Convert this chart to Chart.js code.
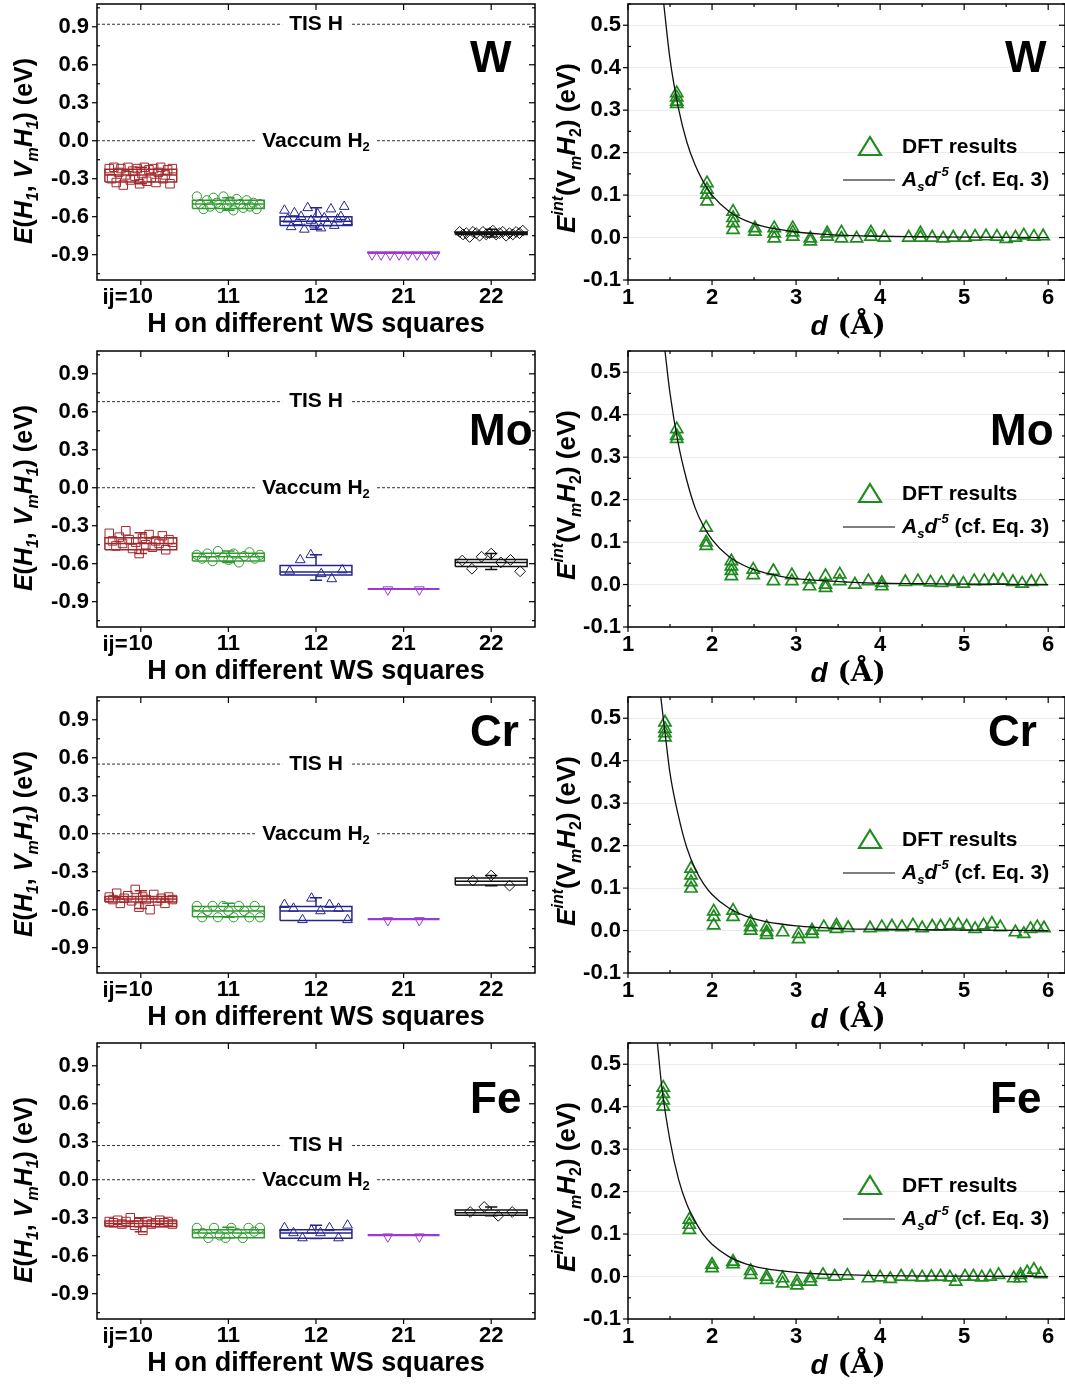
<!DOCTYPE html>
<html>
<head>
<meta charset="utf-8">
<script src="https://cdn.jsdelivr.net/npm/chart.js@4.4.0/dist/chart.umd.min.js"></script>
<style>
  body { margin: 0; background: #fff; }
  #page { position: relative; width: 1065px; height: 1389px; overflow: hidden; }
  #page canvas { position: absolute; }
</style>
</head>
<body>
<div id="page"></div>
<script>
// ---- data ----
const elements = ['W', 'Mo', 'Cr', 'Fe'];
const catLabels = ['10', '11', '12', '21', '22'];
const tisH = [0.92, 0.68, 0.55, 0.27];
const vacH2 = 0.0;
const yTicksLeft = [-0.9, -0.6, -0.3, 0.0, 0.3, 0.6, 0.9];
const yTicksRight = [-0.1, 0.0, 0.1, 0.2, 0.3, 0.4, 0.5];
const xTicksRight = [1, 2, 3, 4, 5, 6];

// box stats per square: [whisker low, Q1, median, Q3, whisker high]
const boxW  = [[-0.34,-0.325,-0.27,-0.225,-0.21],[-0.55,-0.535,-0.50,-0.47,-0.45],[-0.70,-0.67,-0.635,-0.60,-0.53],[-0.885,-0.885,-0.885,-0.885,-0.885],[-0.76,-0.74,-0.73,-0.72,-0.70]];
const boxMo = [[-0.52,-0.49,-0.44,-0.395,-0.355],[-0.59,-0.578,-0.545,-0.518,-0.50],[-0.73,-0.69,-0.665,-0.615,-0.53],[-0.80,-0.80,-0.80,-0.80,-0.80],[-0.645,-0.622,-0.59,-0.567,-0.52]];
const boxCr = [[-0.59,-0.54,-0.515,-0.495,-0.45],[-0.66,-0.655,-0.61,-0.575,-0.55],[-0.685,-0.685,-0.61,-0.575,-0.505],[-0.675,-0.675,-0.675,-0.675,-0.675],[-0.41,-0.405,-0.375,-0.35,-0.33]];
const boxFe = [[-0.41,-0.37,-0.345,-0.325,-0.30],[-0.46,-0.458,-0.42,-0.395,-0.375],[-0.465,-0.462,-0.42,-0.395,-0.36],[-0.438,-0.438,-0.438,-0.438,-0.438],[-0.285,-0.28,-0.26,-0.24,-0.215]];

// individual configurations per square
const ptsW = [
  [-0.22,-0.30,-0.21,-0.33,-0.25,-0.22,-0.35,-0.27,-0.21,-0.31,-0.24,-0.28,-0.22,-0.34,-0.26,-0.21,-0.32,-0.23,-0.29,-0.22,-0.33,-0.25,-0.21,-0.30,-0.27,-0.23,-0.34,-0.22],
  [-0.44,-0.50,-0.54,-0.47,-0.52,-0.45,-0.49,-0.53,-0.44,-0.51,-0.48,-0.55,-0.46,-0.50,-0.53,-0.47,-0.52,-0.49,-0.54,-0.50],
  [-0.55,-0.62,-0.68,-0.57,-0.64,-0.60,-0.70,-0.53,-0.63,-0.66,-0.58,-0.69,-0.61,-0.65,-0.54,-0.67,-0.62,-0.60,-0.52,-0.64],
  [-0.90,-0.90,-0.90,-0.90,-0.90,-0.90,-0.90,-0.90],
  [-0.72,-0.74,-0.73,-0.76,-0.72,-0.73,-0.75,-0.72,-0.74,-0.73,-0.71,-0.74,-0.73,-0.72,-0.75,-0.73,-0.74,-0.72,-0.73,-0.71]
];
const ptsMo = [
  [-0.36,-0.42,-0.46,-0.39,-0.44,-0.34,-0.41,-0.48,-0.43,-0.52,-0.40,-0.45,-0.37,-0.47,-0.42,-0.44,-0.38,-0.49,-0.41,-0.43],
  [-0.53,-0.56,-0.52,-0.58,-0.50,-0.55,-0.57,-0.52,-0.59,-0.54,-0.51,-0.56,-0.53],
  [-0.66,-0.57,-0.53,-0.68,-0.72,-0.65],
  [-0.805,-0.805],
  [-0.575,-0.64,-0.545,-0.52,-0.59,-0.57,-0.66]
];
const ptsCr = [
  [-0.50,-0.52,-0.47,-0.55,-0.51,-0.49,-0.53,-0.44,-0.58,-0.50,-0.52,-0.60,-0.48,-0.53,-0.51,-0.55,-0.50,-0.52],
  [-0.57,-0.66,-0.61,-0.57,-0.66,-0.57,-0.61,-0.66,-0.57,-0.61,-0.66,-0.57,-0.66],
  [-0.56,-0.59,-0.68,-0.51,-0.61,-0.56,-0.59,-0.68],
  [-0.685,-0.685],
  [-0.37,-0.33,-0.41]
];
const ptsFe = [
  [-0.33,-0.34,-0.32,-0.35,-0.33,-0.30,-0.36,-0.34,-0.40,-0.33,-0.35,-0.34,-0.32,-0.34,-0.33,-0.35],
  [-0.38,-0.42,-0.46,-0.38,-0.44,-0.46,-0.38,-0.42,-0.46,-0.38,-0.41,-0.38],
  [-0.38,-0.42,-0.46,-0.40,-0.42,-0.38,-0.46,-0.36],
  [-0.45,-0.45],
  [-0.255,-0.215,-0.285,-0.255]
];

// DFT interaction energies: distance d (Å) and E (eV)
const dW = [1.58,1.58,1.58,1.58,1.94,1.94,1.94,1.94,2.25,2.25,2.25,2.25,2.51,2.51,2.74,2.74,2.74,2.96,2.96,2.96,3.17,3.17,3.37,3.37,3.54,3.54,3.72,3.89,3.89,4.05,4.34,4.48,4.48,4.62,4.75,4.87,5.01,5.13,5.26,5.39,5.50,5.61,5.71,5.83,5.94];
const eW = [0.34,0.33,0.32,0.315,0.128,0.113,0.101,0.085,0.061,0.046,0.034,0.018,0.022,0.014,0.022,0.010,-0.002,0.022,0.012,0.002,-0.002,-0.009,0.010,0.002,0.012,-0.002,-0.002,0.012,0.002,0.0,0.0,0.010,0.0,0.0,-0.002,0.0,0.0,0.002,0.003,0.002,-0.003,0.0,0.005,0.002,0.003];
const dMo = [1.58,1.58,1.58,1.93,1.93,1.93,2.23,2.23,2.23,2.23,2.49,2.49,2.73,2.73,2.95,2.95,3.16,3.16,3.35,3.35,3.35,3.52,3.52,3.70,3.86,4.02,4.02,4.30,4.45,4.60,4.73,4.87,4.99,5.12,5.24,5.35,5.46,5.58,5.69,5.80,5.91];
const eMo = [0.366,0.35,0.343,0.134,0.099,0.091,0.055,0.043,0.032,0.020,0.035,0.022,0.032,0.008,0.022,0.008,0.012,-0.004,0.020,0.0,-0.008,0.024,0.008,0.0,0.008,0.004,-0.004,0.006,0.008,0.005,0.004,0.006,0.002,0.008,0.008,0.009,0.010,0.006,0.002,0.006,0.008];
const dCr = [1.44,1.44,1.44,1.44,1.75,1.75,1.75,1.75,2.02,2.02,2.02,2.25,2.25,2.46,2.46,2.46,2.65,2.65,2.65,2.84,3.03,3.03,3.19,3.19,3.33,3.48,3.48,3.62,3.88,4.02,4.14,4.26,4.39,4.50,4.62,4.72,4.83,4.93,5.03,5.13,5.23,5.33,5.43,5.61,5.71,5.79,5.87,5.95];
const eCr = [0.49,0.475,0.465,0.455,0.146,0.130,0.114,0.099,0.045,0.032,0.012,0.047,0.032,0.020,0.008,0.0,0.008,-0.004,-0.010,-0.004,-0.008,-0.020,0.0,-0.008,0.008,0.012,0.004,0.006,0.0055,0.008,0.0095,0.008,0.012,0.0055,0.0095,0.0095,0.012,0.013,0.0095,0.004,0.012,0.016,0.008,-0.004,-0.008,0.004,0.008,0.0055];
const dFe = [1.42,1.42,1.42,1.42,1.73,1.73,1.73,2.00,2.00,2.25,2.25,2.46,2.46,2.65,2.65,2.84,2.84,3.01,3.01,3.17,3.17,3.32,3.46,3.61,3.86,4.00,4.12,4.25,4.38,4.50,4.61,4.72,4.83,4.90,5.01,5.11,5.21,5.31,5.41,5.59,5.67,5.67,5.75,5.83,5.91];
const eFe = [0.445,0.43,0.415,0.40,0.134,0.122,0.110,0.028,0.020,0.035,0.029,0.013,0.004,0.0,-0.008,-0.004,-0.016,-0.012,-0.021,-0.004,-0.012,0.004,0.0,0.002,-0.004,-0.002,-0.0055,0.0,-0.001,-0.002,-0.001,0.0,-0.002,-0.012,0.0,0.0,-0.002,0.0,0.004,-0.004,0.004,-0.004,0.010,0.016,0.0055];

// A_s d^-5 curves
const fitDW  = [1.42,1.5,1.6,1.7,1.8,1.9,2.0,2.2,2.4,2.6,2.8,3.0,3.3,3.6,4.0,4.5,5.0,6.0];
const fitEW  = [0.56,0.42,0.305,0.225,0.17,0.13,0.10,0.062,0.040,0.027,0.019,0.013,0.008,0.005,0.003,0.002,0.001,0.0];
const fitDMo = [1.44,1.5,1.6,1.7,1.8,1.9,2.0,2.2,2.4,2.6,2.8,3.0,3.3,3.6,4.0,4.5,5.0,6.0];
const fitEMo = [0.55,0.45,0.33,0.245,0.18,0.137,0.106,0.066,0.043,0.029,0.020,0.014,0.009,0.006,0.003,0.002,0.001,0.0];
const fitDCr = [1.39,1.45,1.5,1.6,1.7,1.8,1.9,2.0,2.2,2.4,2.6,2.8,3.0,3.3,3.6,4.0,5.0,6.0];
const fitECr = [0.55,0.45,0.37,0.27,0.195,0.145,0.11,0.085,0.053,0.034,0.023,0.016,0.011,0.007,0.004,0.003,0.001,0.0];
const fitDFe = [1.35,1.4,1.5,1.6,1.7,1.8,1.9,2.0,2.2,2.4,2.6,2.8,3.0,3.3,3.6,4.0,5.0,6.0];
const fitEFe = [0.55,0.45,0.32,0.23,0.17,0.13,0.098,0.076,0.047,0.030,0.020,0.014,0.010,0.006,0.004,0.002,0.001,0.0];

const boxes = [boxW, boxMo, boxCr, boxFe];
const points = [ptsW, ptsMo, ptsCr, ptsFe];
const dftD = [dW, dMo, dCr, dFe];
const dftE = [eW, eMo, eCr, eFe];
const fitD = [fitDW, fitDMo, fitDCr, fitDFe];
const fitE = [fitEW, fitEMo, fitECr, fitEFe];

// ---- styling ----
const sans = '"Liberation Sans", Arial, Helvetica, sans-serif';
const serif = '"DejaVu Serif", "Liberation Serif", serif';
Chart.defaults.font.family = sans;
Chart.defaults.color = '#000';
Chart.defaults.animation = false;

const catColors = ['#a3282c', '#2f9a2f', '#25258f', '#9a3ad6', '#111111'];
const catShapes = ['rect', 'circle', 'triangle', 'triangle', 'rectRot'];
const catRot = [0, 0, 0, 180, 0];
const catRadius = [6, 4.6, 5.6, 5.6, 5.4];
const green = '#1f8a1f';
const rowTops = [0, 347, 693, 1039];
const labelY = [60, 86, 41, 62];
const labelXLeft = [470, 469, 470, 470];
const labelXRight = [465, 450, 448, 450];

// ---- rich text helper (runs of [text, flags]; i=italic, _=sub, ^=sup, s=serif) ----
function layoutRuns(ctx, runs, size) {
  let w = 0;
  const items = runs.map(([t, f = '']) => {
    const small = f.includes('_') || f.includes('^');
    const sz = small ? Math.round(size * 0.62) : size;
    const font = (f.includes('i') ? 'italic ' : '') + 'bold ' + sz + 'px ' + (f.includes('s') ? serif : sans);
    ctx.font = font;
    const tw = ctx.measureText(t).width;
    const dy = f.includes('_') ? size * 0.33 : (f.includes('^') ? -size * 0.36 : 0);
    w += tw;
    return { t, font, tw, dy };
  });
  return { items, w };
}
function drawRuns(ctx, runs, x, y, size, align) {
  const { items, w } = layoutRuns(ctx, runs, size);
  let cx = align === 'center' ? x - w / 2 : (align === 'right' ? x - w : x);
  ctx.textBaseline = 'middle';
  ctx.textAlign = 'left';
  items.forEach(it => { ctx.font = it.font; ctx.fillText(it.t, cx, y + it.dy); cx += it.tw; });
  return w;
}

const leftTitle = [['E','i'],['('],['H','i'],['1','i_'],[', '],['V','i'],['m','i_'],['H','i'],['1','i_'],[')'],[' (eV)']];
const rightTitle = [['E','i'],['int','i^'],['(V'],['m','i_'],['H','i'],['2','_'],[')'],[' (eV)']];
const xTitleRight = [['d','i'],[' (Å)','s']];
const fitLegend = [['A','i'],['s','i_'],['d','i'],['-5','i^'],[' (cf. Eq. 3)']];

// frame, ticks and labels drawn on top of the plot
const deco = {
  id: 'deco',
  afterDatasetsDraw(chart, args, o) {
    const { ctx, scales: { x, y } } = chart;
    ctx.save();
    (o.refs || []).forEach(r => {
      const px = x.getPixelForValue(3), py = y.getPixelForValue(r.v);
      const { w } = layoutRuns(ctx, r.runs, 21);
      ctx.fillStyle = '#fff';
      ctx.fillRect(px - w / 2 - 7, py - 11, w + 14, 22);
      ctx.fillStyle = '#000';
      drawRuns(ctx, r.runs, px, py, 21, 'center');
    });
    ctx.restore();
  },
  afterDraw(chart, args, o) {
    const { ctx, chartArea: a, scales: { x, y } } = chart;
    ctx.save();
    ctx.strokeStyle = '#000';
    ctx.lineWidth = 1.5;
    ctx.strokeRect(a.left, a.top, a.right - a.left, a.bottom - a.top);
    ctx.lineWidth = 1.2;
    const seg = (x1, y1, x2, y2) => { ctx.beginPath(); ctx.moveTo(x1, y1); ctx.lineTo(x2, y2); ctx.stroke(); };
    x.ticks.forEach(t => { const p = x.getPixelForValue(t.value); seg(p, a.bottom, p, a.bottom + 5); seg(p, a.top, p, a.top + 6); });
    y.ticks.forEach(t => { const p = y.getPixelForValue(t.value); seg(a.left - 5, p, a.left, p); seg(a.right - 6, p, a.right, p); });
    (o.xMinor || []).forEach(v => { const p = x.getPixelForValue(v); seg(p, a.bottom, p, a.bottom - 3); seg(p, a.top, p, a.top + 3); });
    (o.yMinor || []).forEach(v => { const p = y.getPixelForValue(v); seg(a.left, p, a.left + 3, p); seg(a.right - 3, p, a.right, p); });

    ctx.fillStyle = '#000';
    // element name
    ctx.font = 'bold 44px ' + sans;
    ctx.textAlign = 'left';
    ctx.textBaseline = 'middle';
    ctx.fillText(o.element, o.labelX, o.labelY);

    if (o.side === 'left') {
      // "ij=" in front of the first square label
      ctx.font = 'bold 22px ' + sans;
      const p1 = x.getPixelForValue(1);
      const w10 = ctx.measureText(catLabels[0]).width;
      ctx.textAlign = 'right';
      ctx.fillText('ij=', p1 - w10 / 2 - 1, a.bottom + 17.5);
      ctx.translate(25, 151);
      ctx.rotate(-Math.PI / 2);
      drawRuns(ctx, leftTitle, 0, 0, 25, 'center');
    } else {
      // legend
      const tx = a.left + 242, ty = a.top + 143;
      ctx.strokeStyle = green;
      ctx.lineWidth = 2.2;
      ctx.beginPath();
      ctx.moveTo(tx - 11, ty + 8); ctx.lineTo(tx + 11, ty + 8); ctx.lineTo(tx, ty - 10); ctx.closePath();
      ctx.stroke();
      drawRuns(ctx, [['DFT results']], a.left + 274, ty, 21, 'left');
      ctx.strokeStyle = '#000';
      ctx.lineWidth = 1.2;
      seg(a.left + 215, a.top + 176, a.left + 267, a.top + 176);
      drawRuns(ctx, fitLegend, a.left + 274, a.top + 176, 21, 'left');
      drawRuns(ctx, xTitleRight, (a.left + x.getPixelForValue(6)) / 2 + 10, 327, 28, 'center');
      ctx.translate(28, 148);
      ctx.rotate(-Math.PI / 2);
      drawRuns(ctx, rightTitle, 0, 0, 26, 'center');
    }
    ctx.restore();
  }
};

function fixAxis(width, height) {
  return function (s) {
    if (width !== undefined) { s.width = width; s.paddingTop = 0; s.paddingBottom = 0; }
    if (height !== undefined) { s.height = height; s.paddingLeft = 0; s.paddingRight = 0; }
  };
}

function spread(n) {
  if (n < 2) return [0];
  const h = Math.min(0.36, 0.12 + 0.03 * n);
  return Array.from({ length: n }, (_, i) => -h + 2 * h * i / (n - 1));
}

function boxPath(i, b) {
  const [lo, q1, md, q3, hi] = b, c = i + 1, w = 0.41, cap = 0.07;
  const gap = () => ({ x: c, y: null });
  return [
    { x: c - w, y: q1 }, { x: c + w, y: q1 }, { x: c + w, y: q3 }, { x: c - w, y: q3 }, { x: c - w, y: q1 }, gap(),
    { x: c - w, y: md }, { x: c + w, y: md }, gap(),
    { x: c, y: q3 }, { x: c, y: hi }, gap(), { x: c - cap, y: hi }, { x: c + cap, y: hi }, gap(),
    { x: c, y: q1 }, { x: c, y: lo }, gap(), { x: c - cap, y: lo }, { x: c + cap, y: lo }
  ];
}

function makeCanvas(left, top, w, h) {
  const c = document.createElement('canvas');
  c.width = w; c.height = h;
  c.style.left = left + 'px'; c.style.top = top + 'px';
  c.style.width = w + 'px'; c.style.height = h + 'px';
  document.getElementById('page').appendChild(c);
  return c;
}

const tickFont = { size: 22, weight: 'bold', lineHeight: 1 };

function makeLeft(r) {
  const datasets = [];
  [tisH[r], vacH2].forEach(v => datasets.push({
    data: [{ x: 0.5, y: v }, { x: 5.5, y: v }], showLine: true, borderColor: '#333',
    borderWidth: 1, borderDash: [3, 2], pointRadius: 0
  }));
  boxes[r].forEach((b, i) => datasets.push({
    data: boxPath(i, b), showLine: true, spanGaps: false, borderColor: catColors[i],
    borderWidth: i === 3 ? 2.2 : 1.5, pointRadius: 0
  }));
  points[r].forEach((vals, i) => {
    const off = spread(vals.length);
    datasets.push({
      data: vals.map((v, j) => ({ x: i + 1 + off[j], y: v })),
      pointStyle: catShapes[i], rotation: catRot[i], pointRadius: catRadius[i],
      borderColor: catColors[i], backgroundColor: 'rgba(0,0,0,0)', pointBorderWidth: 1
    });
  });
  const yMinor = yTicksLeft.map(v => v + 0.15).concat([-1.05]);
  new Chart(makeCanvas(0, rowTops[r], 540, 346), {
    type: 'scatter',
    data: { datasets },
    options: {
      responsive: false,
      layout: { autoPadding: false, padding: { left: 0, right: 5, top: 4, bottom: 0 } },
      plugins: {
        legend: { display: false }, tooltip: { enabled: false },
        deco: {
          side: 'left', element: elements[r], labelX: labelXLeft[r], labelY: labelY[r], yMinor,
          refs: [
            { v: tisH[r], runs: [['TIS H']] },
            { v: vacH2, runs: [['Vaccum H'], ['2', '_']] }
          ]
        }
      },
      scales: {
        x: {
          type: 'linear', min: 0.5, max: 5.5,
          grid: { display: false, drawTicks: false }, border: { display: false },
          afterBuildTicks: s => { s.ticks = [1, 2, 3, 4, 5].map(v => ({ value: v })); },
          afterFit: fixAxis(undefined, 66),
          ticks: { font: tickFont, padding: 6, maxRotation: 0, callback: v => catLabels[v - 1] },
          title: { display: true, text: 'H on different WS squares', font: { size: 27, weight: 'bold', lineHeight: 1 }, padding: { top: 0, bottom: 8 } }
        },
        y: {
          min: -1.1, max: 1.08,
          grid: { display: false, drawTicks: false }, border: { display: false },
          afterBuildTicks: s => { s.ticks = yTicksLeft.map(v => ({ value: v })); },
          afterFit: fixAxis(97, undefined),
          ticks: { font: tickFont, padding: 8, callback: v => v.toFixed(1) }
        }
      }
    },
    plugins: [deco]
  });
}

function makeRight(r) {
  const datasets = [
    {
      data: fitD[r].map((d, i) => ({ x: d, y: fitE[r][i] })), showLine: true,
      borderColor: '#111', borderWidth: 1.3, pointRadius: 0, cubicInterpolationMode: 'monotone'
    },
    {
      data: dftD[r].map((d, i) => ({ x: d, y: dftE[r][i] })),
      pointStyle: 'triangle', pointRadius: 7, pointBorderWidth: 1.7,
      borderColor: green, backgroundColor: 'rgba(0,0,0,0)'
    }
  ];
  const xMinor = [1.5, 2.5, 3.5, 4.5, 5.5];
  const yMinor = yTicksRight.map(v => v + 0.05);
  new Chart(makeCanvas(540, rowTops[r], 525, 346), {
    type: 'scatter',
    data: { datasets },
    options: {
      responsive: false,
      layout: { autoPadding: false, padding: { left: 0, right: 0, top: 4, bottom: 0 } },
      plugins: {
        legend: { display: false }, tooltip: { enabled: false },
        deco: { side: 'right', element: elements[r], labelX: labelXRight[r], labelY: labelY[r], xMinor, yMinor }
      },
      scales: {
        x: {
          type: 'linear', min: 1, max: 6.2,
          grid: { display: false, drawTicks: false }, border: { display: false },
          afterBuildTicks: s => { s.ticks = xTicksRight.map(v => ({ value: v })); },
          afterFit: fixAxis(undefined, 66),
          ticks: { font: tickFont, padding: 7, maxRotation: 0, callback: v => String(v) }
        },
        y: {
          min: -0.1, max: 0.55,
          grid: { display: true, color: '#ebebeb', lineWidth: 1, drawTicks: false }, border: { display: false },
          afterBuildTicks: s => { s.ticks = yTicksRight.map(v => ({ value: v })); },
          afterFit: fixAxis(88, undefined),
          ticks: { font: tickFont, padding: 7, callback: v => v.toFixed(1) }
        }
      }
    },
    plugins: [deco]
  });
}

for (let r = 0; r < 4; r++) { makeLeft(r); makeRight(r); }
</script>
</body>
</html>
